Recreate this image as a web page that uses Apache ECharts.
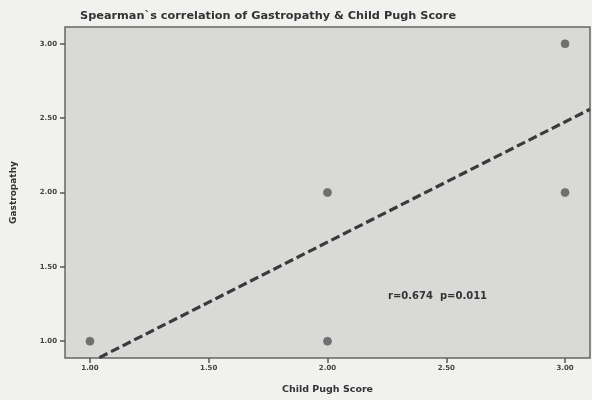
<!DOCTYPE html>
<html>
<head>
<meta charset="utf-8">
<script src="https://cdn.jsdelivr.net/npm/echarts@6/dist/echarts.min.js"></script>
<style>html,body{margin:0;padding:0;background:#f1f1ef;}#c{width:592px;height:400px;}</style>
</head>
<body>
<div id="c"></div>
<script>
var childPugh = [1, 2, 2, 3, 3];
var gastropathy = [1, 1, 2, 3, 2];
var fitX = [1.04, 3.105];
var fitY = [0.89, 2.56];
var xTicks = [1.0, 1.5, 2.0, 2.5, 3.0];
var yTicks = [1.0, 1.5, 2.0, 2.5, 3.0];
var statText = 'r=0.674  p=0.011';

var pts = childPugh.map(function (x, i) { return [x, gastropathy[i]]; });
var fit = fitX.map(function (x, i) { return [x, fitY[i]]; });

var F = 'DejaVu Sans';
var chart = echarts.init(document.getElementById('c'));
chart.setOption({
  backgroundColor: '#f1f1ef',
  animation: false,
  title: {
    text: 'Spearman`s correlation of Gastropathy & Child Pugh Score',
    left: 75, top: 6,
    textStyle: { fontFamily: F, fontSize: 11.3, fontWeight: 'bold', color: '#333' }
  },
  grid: { left: 65, right: 2, top: 27, bottom: 40, show: true, backgroundColor: '#d9d9d8', borderColor: '#666', borderWidth: 1.5 },
  xAxis: {
    type: 'value', min: 0.895, max: 3.105,
    name: 'Child Pugh Score', nameLocation: 'middle', nameGap: 27,
    nameTextStyle: { fontFamily: F, fontSize: 9.5, fontWeight: 'bold', color: '#333' },
    axisLine: { show: false },
    axisTick: { show: true, length: 5, lineStyle: { color: '#555', width: 1.5 }, customValues: xTicks },
    axisLabel: { fontFamily: F, fontSize: 7, fontWeight: 'bold', color: '#444', margin: 7, customValues: xTicks,
      formatter: function (v) { return v.toFixed(2); } },
    splitLine: { show: false }
  },
  yAxis: {
    type: 'value', min: 0.887, max: 3.113,
    name: 'Gastropathy', nameLocation: 'middle', nameGap: 47,
    nameTextStyle: { fontFamily: F, fontSize: 9, fontWeight: 'bold', color: '#333' },
    axisLine: { show: false },
    axisTick: { show: true, length: 5, lineStyle: { color: '#555', width: 1.5 }, customValues: yTicks },
    axisLabel: { fontFamily: F, fontSize: 7, fontWeight: 'bold', color: '#444', margin: 8, customValues: yTicks,
      formatter: function (v) { return v.toFixed(2); } },
    splitLine: { show: false }
  },
  graphic: [{
    type: 'text', left: 388, top: 291,
    style: { text: statText, fontFamily: F, fontSize: 10, fontWeight: 'bold', fill: '#333' }
  }],
  series: [
    {
      type: 'line', data: fit, symbol: 'none', z: 3,
      lineStyle: { color: '#3a3a3a', width: 3.2, type: [9, 4] }
    },
    {
      type: 'scatter', data: pts, symbol: 'circle', symbolSize: 8, z: 4,
      itemStyle: { color: '#555', borderColor: '#707070', borderWidth: 1 }
    }
  ]
});
</script>
</body>
</html>
